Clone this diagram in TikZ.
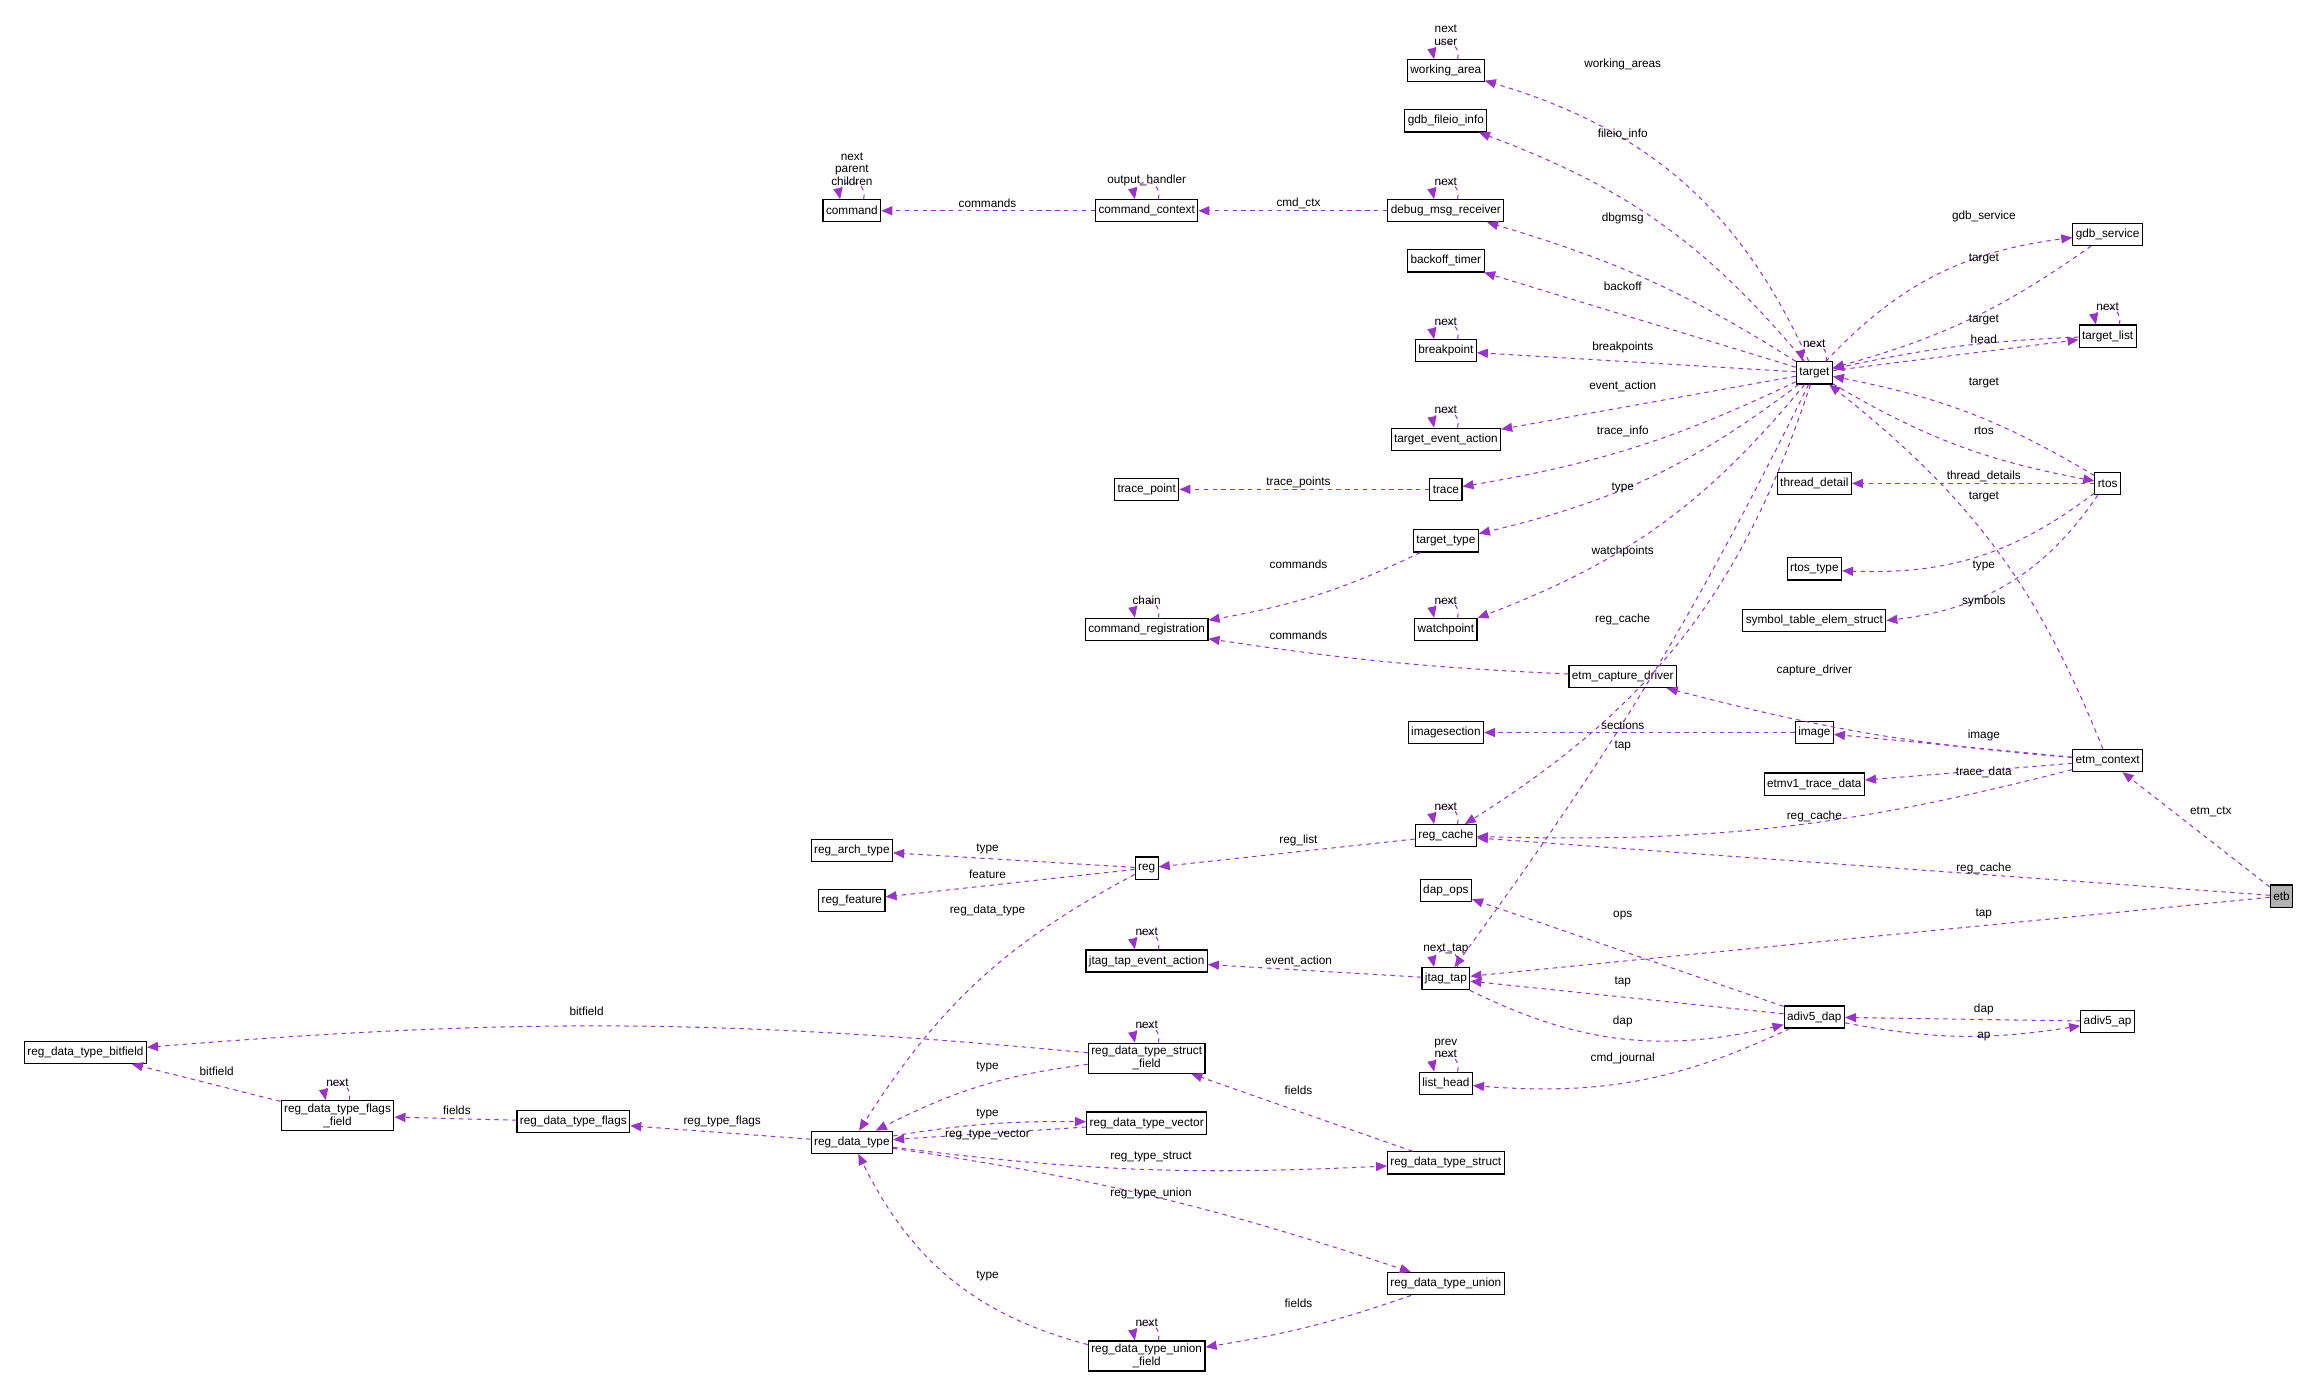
\documentclass[tikz,border=0pt]{standalone}
\usepackage{fontspec}
\setmainfont{Liberation Sans}
\usetikzlibrary{arrows}
\definecolor{dep_purple}{RGB}{154, 50, 205}
\tikzstyle{cls}=[draw=black,fill=white,line width=0.8pt,inner sep=2pt,
  minimum height=15pt,font=\fontsize{8}{9}\selectfont,align=center]
\tikzstyle{cur}=[cls,fill=black!30]
\tikzstyle{dep}=[draw=dep_purple,dashed,line width=0.7pt,-triangle 45]
\tikzstyle{lbl}=[font=\fontsize{8}{8.5}\selectfont,inner sep=0pt,align=center]
\newcommand{\dep}[5][]{\draw [dep,#1] (#2) to (#3); \node [lbl] at (#5) {#4};}
\newcommand{\selfloop}[2]{%
  \draw [dep] ([xshift=8pt]#1.north) .. controls +(3,-15) and +(-3,-15) .. ([xshift=-8pt]#1.north);
  \node [lbl,anchor=south] at ([yshift=9pt]#1.north) {#2};}

\begin{document}
\begin{tikzpicture}[x=1pt,y=-1pt]
        \useasboundingbox (0,0) rectangle (1568,940);
        \node [style=cls] (working_area) at (981,48) {working\_area};
        \node [style=cls] (gdb_fileio_info) at (981,82) {gdb\_fileio\_info};
        \node [style=cls] (debug_msg_receiver) at (981,143) {debug\_msg\_receiver};
        \node [style=cls] (backoff_timer) at (981,177) {backoff\_timer};
        \node [style=cls] (breakpoint) at (981,238) {breakpoint};
        \node [style=cls] (target_event_action) at (981,298) {target\_event\_action};
        \node [style=cls] (trace) at (981,332) {trace};
        \node [style=cls] (target_type) at (981,367) {target\_type};
        \node [style=cls] (watchpoint) at (981,427) {watchpoint};
        \node [style=cls] (etm_capture_driver) at (1101,459) {etm\_capture\_driver};
        \node [style=cls] (imagesection) at (981,497) {imagesection};
        \node [style=cls] (image) at (1231,497) {image};
        \node [style=cls] (etmv1_trace_data) at (1231,532) {etmv1\_trace\_data};
        \node [style=cls] (reg_cache) at (981,567) {reg\_cache};
        \node [style=cls] (dap_ops) at (981,604) {dap\_ops};
        \node [style=cls] (jtag_tap) at (981,664) {jtag\_tap};
        \node [style=cls] (list_head) at (981,735) {list\_head};
        \node [style=cls] (reg_data_type_struct) at (981,789) {reg\_data\_type\_struct};
        \node [style=cls] (reg_data_type_union) at (981,871) {reg\_data\_type\_union};
        \node [style=cls] (command) at (578,143) {command};
        \node [style=cls] (command_context) at (778,143) {command\_context};
        \node [style=cls] (trace_point) at (778,332) {trace\_point};
        \node [style=cls] (command_registration) at (778,427) {command\_registration};
        \node [style=cls] (reg_arch_type) at (578,577) {reg\_arch\_type};
        \node [style=cls] (reg_feature) at (578,611) {reg\_feature};
        \node [style=cls] (reg) at (778,589) {reg};
        \node [style=cls] (jtag_tap_event_action) at (778,652) {jtag\_tap\_event\_action};
        \node [style=cls] (reg_data_type_struct_field) at (778,718) {reg\_data\_type\_struct\\\_field};
        \node [style=cls] (reg_data_type_vector) at (778,762) {reg\_data\_type\_vector};
        \node [style=cls] (reg_data_type) at (578,775) {reg\_data\_type};
        \node [style=cls] (reg_data_type_flags) at (389,761) {reg\_data\_type\_flags};
        \node [style=cls] (reg_data_type_flags_field) at (229,757) {reg\_data\_type\_flags\\\_field};
        \node [style=cls] (reg_data_type_bitfield) at (58,714) {reg\_data\_type\_bitfield};
        \node [style=cls] (reg_data_type_union_field) at (778,920) {reg\_data\_type\_union\\\_field};
        \node [style=cls] (target) at (1231,253) {target};
        \node [style=cls] (gdb_service) at (1430,159) {gdb\_service};
        \node [style=cls] (target_list) at (1430,228) {target\_list};
        \node [style=cls] (thread_detail) at (1231,328) {thread\_detail};
        \node [style=cls] (rtos) at (1430,328) {rtos};
        \node [style=cls] (rtos_type) at (1231,386) {rtos\_type};
        \node [style=cls] (symbol_table_elem_struct) at (1231,421) {symbol\_table\_elem\_struct};
        \node [style=cls] (etm_context) at (1430,516) {etm\_context};
        \node [style=cur] (etb) at (1548,608) {etb};
        \node [style=cls] (adiv5_dap) at (1231,690) {adiv5\_dap};
        \node [style=cls] (adiv5_ap) at (1430,693) {adiv5\_ap};
        % self references
        \selfloop{working_area}{next\\user}
        \selfloop{debug_msg_receiver}{next}
        \selfloop{command_context}{output\_handler}
        \selfloop{command}{next\\parent\\children}
        \selfloop{breakpoint}{next}
        \selfloop{target_event_action}{next}
        \selfloop{command_registration}{chain}
        \selfloop{watchpoint}{next}
        \selfloop{target}{next}
        \selfloop{target_list}{next}
        \selfloop{reg_cache}{next}
        \selfloop{jtag_tap}{next\_tap}
        \selfloop{jtag_tap_event_action}{next}
        \selfloop{list_head}{prev\\next}
        \selfloop{reg_data_type_struct_field}{next}
        \selfloop{reg_data_type_flags_field}{next}
        \selfloop{reg_data_type_union_field}{next}
        % target members
        \dep[bend right=25]{target}{working_area}{working\_areas}{1101,44}
        \dep[bend right=15]{target}{gdb_fileio_info}{fileio\_info}{1101,91}
        \dep[bend right=8]{target}{debug_msg_receiver}{dbgmsg}{1101,148}
        \dep{target}{backoff_timer}{backoff}{1101,194}
        \dep{target}{breakpoint}{breakpoints}{1101,236}
        \dep{target}{target_event_action}{event\_action}{1101,262}
        \dep[bend left=8]{target}{trace}{trace\_info}{1101,293}
        \dep[bend left=12]{target}{target_type}{type}{1101,331}
        \dep[bend left=15]{target}{watchpoint}{watchpoints}{1101,374}
        \dep[bend left=20]{target}{reg_cache}{reg\_cache}{1101,420}
        \dep[bend left=5]{target}{jtag_tap}{tap}{1101,506}
        \dep[bend left=20]{target}{gdb_service}{gdb\_service}{1346,147}
        \dep[bend left=10]{gdb_service}{target}{target}{1346,176}
        \dep[bend right=5]{target_list}{target}{target}{1346,217}
        \dep{target}{target_list}{head}{1346,230}
        \dep[bend right=10]{rtos}{target}{target}{1346,260}
        \dep[bend right=10]{target}{rtos}{rtos}{1346,292}
        \dep{rtos}{thread_detail}{thread\_details}{1346,323}
        \dep[bend left=20]{rtos}{rtos_type}{type}{1346,384}
        \dep[bend left=25]{rtos}{symbol_table_elem_struct}{symbols}{1346,408}
        \dep[bend right=15]{etm_context}{target}{target}{1346,337}
        % others
        \dep{debug_msg_receiver}{command_context}{cmd\_ctx}{881,138}
        \dep{command_context}{command}{commands}{670,138}
        \dep{trace}{trace_point}{trace\_points}{881,327}
        \dep[bend left=8]{target_type}{command_registration}{commands}{881,383}
        \dep[bend left=3]{etm_capture_driver}{command_registration}{commands}{881,431}
        \dep[bend left=5]{etm_context}{etm_capture_driver}{capture\_driver}{1231,455}
        \dep{etm_context}{image}{image}{1346,499}
        \dep{image}{imagesection}{sections}{1101,492}
        \dep{etm_context}{etmv1_trace_data}{trace\_data}{1346,524}
        \dep[bend left=8]{etm_context}{reg_cache}{reg\_cache}{1231,554}
        \dep{etb}{etm_context}{etm\_ctx}{1500,551}
        \dep{etb}{reg_cache}{reg\_cache}{1346,589}
        \dep{etb}{jtag_tap}{tap}{1346,620}
        \dep{reg_cache}{reg}{reg\_list}{881,570}
        \dep{reg}{reg_arch_type}{type}{670,576}
        \dep{reg}{reg_feature}{feature}{670,593}
        \dep[bend right=15]{reg}{reg_data_type}{reg\_data\_type}{670,618}
        \dep{adiv5_dap}{dap_ops}{ops}{1101,621}
        \dep{jtag_tap}{jtag_tap_event_action}{event\_action}{881,652}
        \dep{adiv5_dap}{jtag_tap}{tap}{1101,666}
        \dep[bend right=20]{jtag_tap}{adiv5_dap}{dap}{1101,693}
        \dep{adiv5_ap}{adiv5_dap}{dap}{1346,685}
        \dep[bend right=10]{adiv5_dap}{adiv5_ap}{ap}{1346,703}
        \dep[bend left=15]{adiv5_dap}{list_head}{cmd\_journal}{1101,718}
        \dep[bend right=5]{reg_data_type_struct_field}{reg_data_type_bitfield}{bitfield}{398,686}
        \dep[bend right=10]{reg_data_type_struct_field}{reg_data_type}{type}{670,724}
        \dep{reg_data_type_flags_field}{reg_data_type_bitfield}{bitfield}{147,727}
        \dep{reg_data_type_flags}{reg_data_type_flags_field}{fields}{310,753}
        \dep{reg_data_type}{reg_data_type_flags}{reg\_type\_flags}{490,761}
        \dep{reg_data_type_vector}{reg_data_type}{type}{670,756}
        \dep[bend left=5]{reg_data_type}{reg_data_type_vector}{reg\_type\_vector}{670,770}
        \dep[bend right=5]{reg_data_type}{reg_data_type_struct}{reg\_type\_struct}{781,785}
        \dep{reg_data_type_struct}{reg_data_type_struct_field}{fields}{881,740}
        \dep[bend left=5]{reg_data_type}{reg_data_type_union}{reg\_type\_union}{781,810}
        \dep[bend left=5]{reg_data_type_union}{reg_data_type_union_field}{fields}{881,884}
        \dep[bend left=25]{reg_data_type_union_field}{reg_data_type}{type}{670,866}
    \end{tikzpicture}
\end{document}
